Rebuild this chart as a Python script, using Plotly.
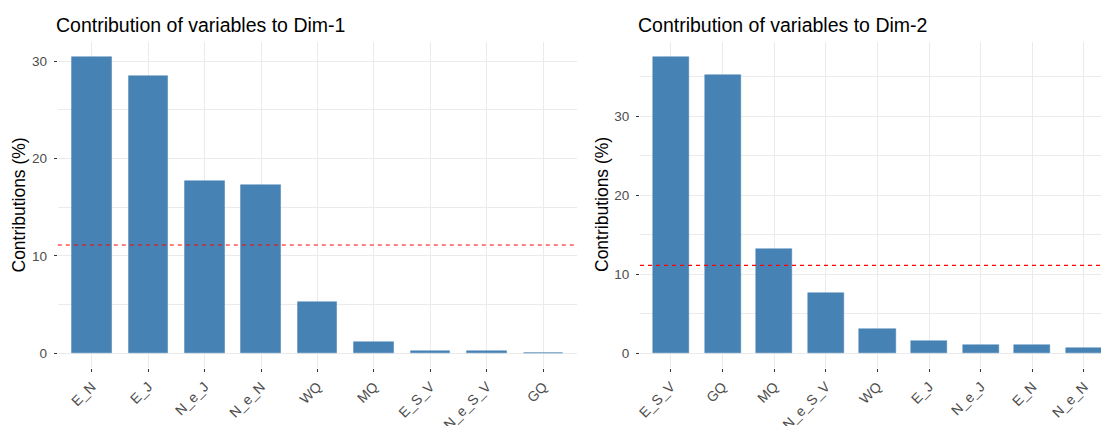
import plotly.graph_objects as go

# Contributions (%) of each variable to the first two dimensions
dim1_vars = ["E_N", "E_J", "N_e_J", "N_e_N", "WQ", "MQ", "E_S_V", "N_e_S_V", "GQ"]
dim1_contrib = [30.45, 28.45, 17.7, 17.3, 5.3, 1.2, 0.22, 0.2, 0.06]

dim2_vars = ["E_S_V", "GQ", "MQ", "N_e_S_V", "WQ", "E_J", "N_e_J", "E_N", "N_e_N"]
dim2_contrib = [37.5, 35.2, 13.2, 7.6, 3.0, 1.6, 1.0, 1.0, 0.7]

# expected average contribution (100 / number of variables)
expected = 100 / len(dim1_vars)

W, H = 1101, 426
FONT = "Liberation Sans, Arial, sans-serif"
BAR = "#4682B4"
GRID = "#EBEBEB"
TXT = "#4D4D4D"


def px_x(v):
    return v / W


def px_y(v):
    return 1 - v / H


panel_top, panel_bot = 42, 368
left_dom = [px_x(57.8), px_x(577.2)]
right_dom = [px_x(640), 1.0]
y_dom = [px_y(panel_bot), px_y(panel_top)]

fig = go.Figure()
fig.add_trace(go.Bar(x=dim1_vars, y=dim1_contrib, width=0.7,
                     marker=dict(color=BAR, line=dict(color=BAR, width=0.5)),
                     xaxis="x", yaxis="y", showlegend=False))
fig.add_trace(go.Bar(x=dim2_vars, y=dim2_contrib, width=0.7,
                     marker=dict(color=BAR, line=dict(color=BAR, width=0.5)),
                     xaxis="x2", yaxis="y2", showlegend=False))


def xaxis_cfg(domain, rng, anchor):
    return dict(domain=domain, range=rng, anchor=anchor, type="category",
                automargin=False,
                showgrid=True, gridcolor=GRID, gridwidth=1,
                ticks="outside", ticklen=3, tickcolor="#333333", tickwidth=1,
                tickangle=-45, ticklabelstandoff=1,
                tickfont=dict(family=FONT, size=14, color=TXT),
                showline=False, zeroline=False, fixedrange=True)


def yaxis_cfg(rng, anchor):
    return dict(domain=y_dom, range=rng, anchor=anchor,
                automargin=False,
                dtick=10, tick0=0,
                showgrid=True, gridcolor=GRID, gridwidth=1,
                minor=dict(dtick=5, showgrid=True, gridcolor=GRID, gridwidth=1),
                ticks="outside", ticklen=3, tickcolor="#333333", tickwidth=1,
                ticklabelstandoff=4,
                tickfont=dict(family=FONT, size=13.5, color=TXT),
                showline=False, zeroline=False, fixedrange=True)


m1, m2 = max(dim1_contrib), max(dim2_contrib)
fig.update_layout(
    width=W, height=H,
    margin=dict(l=0, r=0, t=0, b=0, autoexpand=False),
    paper_bgcolor="white", plot_bgcolor="white",
    bargap=0,
    xaxis=xaxis_cfg(left_dom, [-0.6, 8.6], "y"),
    yaxis=yaxis_cfg([-0.05 * m1, 1.05 * m1], "x"),
    xaxis2=xaxis_cfg(right_dom, [-0.6, 8.33], "y2"),
    yaxis2=yaxis_cfg([-0.05 * m2, 1.05 * m2], "x2"),
    shapes=[
        dict(type="line", xref="x domain", yref="y", x0=0, x1=1,
             y0=expected, y1=expected,
             line=dict(color="#FF0000", width=1.1, dash="4px,4px")),
        dict(type="line", xref="x2 domain", yref="y2", x0=0, x1=1,
             y0=expected, y1=expected,
             line=dict(color="#FF0000", width=1.1, dash="4px,4px")),
    ],
    annotations=[
        dict(text="Contribution of variables to Dim-1", xref="paper", yref="paper",
             x=px_x(53.5), y=px_y(24.5), xanchor="left", yanchor="middle",
             showarrow=False, font=dict(family=FONT, size=19.5, color="black")),
        dict(text="Contribution of variables to Dim-2", xref="paper", yref="paper",
             x=px_x(636), y=px_y(24.5), xanchor="left", yanchor="middle",
             showarrow=False, font=dict(family=FONT, size=19.5, color="black")),
        dict(text="Contributions (%)", xref="paper", yref="paper",
             x=px_x(18.5), y=sum(y_dom) / 2, xanchor="center", yanchor="middle",
             textangle=-90, showarrow=False,
             font=dict(family=FONT, size=17.5, color="black")),
        dict(text="Contributions (%)", xref="paper", yref="paper",
             x=px_x(602), y=sum(y_dom) / 2, xanchor="center", yanchor="middle",
             textangle=-90, showarrow=False,
             font=dict(family=FONT, size=17.5, color="black")),
    ],
)

fig.write_html("out.html")
